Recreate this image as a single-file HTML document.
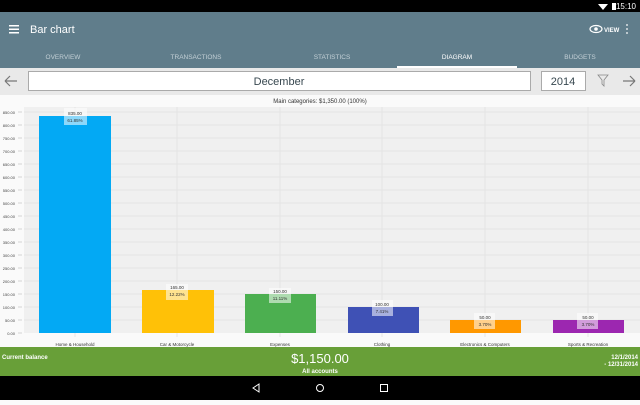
<!DOCTYPE html>
<html><head><meta charset="utf-8"><style>
body{margin:0;width:640px;height:400px;overflow:hidden;font-family:"Liberation Sans",sans-serif;background:#fafafa}
</style></head><body>
<svg width="640" height="400" xmlns="http://www.w3.org/2000/svg" font-family="Liberation Sans, sans-serif">
<rect width="640" height="400" fill="#fafafa"/>
<rect width="640" height="12" fill="#000"/>
<text x="636" y="9" font-size="8" fill="#fff" text-anchor="end">15:10</text>
<rect x="612" y="3" width="4" height="7" fill="#fff"/>
<path d="M598 4 L608 4 L603 10 Z" fill="#fff"/>
<rect y="12" width="640" height="56" fill="#607d8b"/>
<rect x="9" y="25" width="10" height="1.5" fill="#fff"/><rect x="9" y="28.5" width="10" height="1.5" fill="#fff"/><rect x="9" y="32" width="10" height="1.5" fill="#fff"/>
<text x="30" y="33" font-size="11" fill="#fff">Bar chart</text>
<ellipse cx="596" cy="29" rx="6" ry="3.5" fill="none" stroke="#fff" stroke-width="1.2"/><circle cx="596" cy="29" r="1.8" fill="#fff"/>
<text x="604" y="32" font-size="6" fill="#fff" font-weight="bold">VIEW</text>
<circle cx="627" cy="25" r="0.9" fill="#fff"/><circle cx="627" cy="29" r="0.9" fill="#fff"/><circle cx="627" cy="33" r="0.9" fill="#fff"/>
<g font-size="6.5" text-anchor="middle" fill="#c3d0d6">
<text x="63" y="59">OVERVIEW</text><text x="196" y="59">TRANSACTIONS</text><text x="332" y="59">STATISTICS</text>
<text x="457" y="59" fill="#fff">DIAGRAM</text><text x="580" y="59">BUDGETS</text></g>
<rect x="397" y="66" width="120" height="2" fill="#fff"/>
<rect y="68" width="640" height="27" fill="#e9e9e9"/>
<path d="M5 81 H17 M5 81 L10 76 M5 81 L10 86" stroke="#777" stroke-width="1.2" fill="none"/>
<path d="M635 81 H623 M635 81 L630 76 M635 81 L630 86" stroke="#777" stroke-width="1.2" fill="none"/>
<path d="M598 75 H608 L604 80 V86 L602 84 V80 Z" stroke="#888" stroke-width="0.8" fill="none"/>
<rect x="28.5" y="71.5" width="502" height="19" fill="#fff" stroke="#aaa"/>
<text x="279" y="85" font-size="11" text-anchor="middle" fill="#37474f">December</text>
<rect x="541.5" y="71.5" width="44" height="19" fill="#fff" stroke="#aaa"/>
<text x="563" y="85" font-size="11" text-anchor="middle" fill="#37474f">2014</text>
<text x="320" y="103" font-size="6" text-anchor="middle" fill="#333">Main categories: $1,350.00 (100%)</text>
<rect x="24" y="107" width="616" height="226" fill="#f0f0f0"/>
<g stroke="#e2e2e2" stroke-width="0.8">
<line x1="24" x2="640" y1="112" y2="112"/><line x1="24" x2="640" y1="125" y2="125"/><line x1="24" x2="640" y1="138" y2="138"/><line x1="24" x2="640" y1="151" y2="151"/><line x1="24" x2="640" y1="164" y2="164"/><line x1="24" x2="640" y1="177" y2="177"/><line x1="24" x2="640" y1="190" y2="190"/><line x1="24" x2="640" y1="203" y2="203"/><line x1="24" x2="640" y1="216" y2="216"/><line x1="24" x2="640" y1="229" y2="229"/><line x1="24" x2="640" y1="242" y2="242"/><line x1="24" x2="640" y1="255" y2="255"/><line x1="24" x2="640" y1="268" y2="268"/><line x1="24" x2="640" y1="281" y2="281"/><line x1="24" x2="640" y1="294" y2="294"/><line x1="24" x2="640" y1="307" y2="307"/><line x1="24" x2="640" y1="320" y2="320"/>
<line x1="75" x2="75" y1="107" y2="337"/><line x1="177" x2="177" y1="107" y2="337"/><line x1="280" x2="280" y1="107" y2="337"/><line x1="382" x2="382" y1="107" y2="337"/><line x1="485" x2="485" y1="107" y2="337"/><line x1="588" x2="588" y1="107" y2="337"/>
</g>
<g stroke="#bbb" stroke-width="0.6">
<line x1="18" x2="22" y1="112" y2="112"/><line x1="18" x2="22" y1="125" y2="125"/><line x1="18" x2="22" y1="138" y2="138"/><line x1="18" x2="22" y1="151" y2="151"/><line x1="18" x2="22" y1="164" y2="164"/><line x1="18" x2="22" y1="177" y2="177"/><line x1="18" x2="22" y1="190" y2="190"/><line x1="18" x2="22" y1="203" y2="203"/><line x1="18" x2="22" y1="216" y2="216"/><line x1="18" x2="22" y1="229" y2="229"/><line x1="18" x2="22" y1="242" y2="242"/><line x1="18" x2="22" y1="255" y2="255"/><line x1="18" x2="22" y1="268" y2="268"/><line x1="18" x2="22" y1="281" y2="281"/><line x1="18" x2="22" y1="294" y2="294"/><line x1="18" x2="22" y1="307" y2="307"/><line x1="18" x2="22" y1="320" y2="320"/><line x1="18" x2="22" y1="333" y2="333"/>
</g>
<g font-size="4" fill="#444" text-anchor="end">
<text x="15" y="114">850.00</text><text x="15" y="127">800.00</text><text x="15" y="140">750.00</text><text x="15" y="153">700.00</text><text x="15" y="166">650.00</text><text x="15" y="179">600.00</text><text x="15" y="192">550.00</text><text x="15" y="205">500.00</text><text x="15" y="218">450.00</text><text x="15" y="231">400.00</text><text x="15" y="244">350.00</text><text x="15" y="257">300.00</text><text x="15" y="270">250.00</text><text x="15" y="283">200.00</text><text x="15" y="296">150.00</text><text x="15" y="309">100.00</text><text x="15" y="322">50.00</text><text x="15" y="335">0.00</text>
</g>
<rect x="39" y="116" width="72" height="217" fill="#03a9f4"/>
<rect x="142" y="290" width="72" height="43" fill="#ffc107"/>
<rect x="245" y="294" width="71" height="39" fill="#4caf50"/>
<rect x="348" y="307" width="71" height="26" fill="#3f51b5"/>
<rect x="450" y="320" width="71" height="13" fill="#ff9800"/>
<rect x="553" y="320" width="71" height="13" fill="#9c27b0"/>
<g fill="#fff" fill-opacity="0.55">
<rect x="64" y="108" width="23" height="17"/><rect x="166" y="284" width="22" height="16"/><rect x="269" y="288" width="22" height="15"/><rect x="372" y="300" width="21" height="16"/><rect x="474" y="313" width="21" height="16"/><rect x="577" y="313" width="21" height="16"/>
</g>
<g font-size="4.5" fill="#333" text-anchor="middle">
<text x="75" y="115">835.00</text><text x="75" y="122">61.85%</text>
<text x="177" y="289">165.00</text><text x="177" y="296">12.22%</text>
<text x="280" y="293">150.00</text><text x="280" y="300">11.11%</text>
<text x="382" y="306">100.00</text><text x="382" y="313">7.41%</text>
<text x="485" y="319">50.00</text><text x="485" y="326">3.70%</text>
<text x="588" y="319">50.00</text><text x="588" y="326">3.70%</text>
<text x="75" y="346">Home &amp; Household</text><text x="177" y="346">Car &amp; Motorcycle</text><text x="280" y="346">Expenses</text><text x="382" y="346">Clothing</text><text x="485" y="346">Electronics &amp; Computers</text><text x="588" y="346">Sports &amp; Recreation</text>
</g>
<rect y="347" width="640" height="29" fill="#689f38"/>
<text x="2" y="359" font-size="6" fill="#fff" font-weight="bold">Current balance</text>
<text x="320" y="363" font-size="13" fill="#fff" text-anchor="middle">$1,150.00</text>
<text x="320" y="373" font-size="6" fill="#fff" text-anchor="middle" font-weight="bold">All accounts</text>
<text x="638" y="359" font-size="6" fill="#fff" text-anchor="end" font-weight="bold">12/1/2014</text>
<text x="638" y="366" font-size="6" fill="#fff" text-anchor="end" font-weight="bold">- 12/31/2014</text>
<rect y="376" width="640" height="24" fill="#000"/>
<path d="M259 384 L253 388 L259 392 Z" fill="none" stroke="#fff" stroke-width="1"/>
<circle cx="320" cy="388" r="3.5" fill="none" stroke="#fff" stroke-width="1"/>
<rect x="380.5" y="384.5" width="7" height="7" fill="none" stroke="#fff" stroke-width="1"/>
</svg>
</body></html>
